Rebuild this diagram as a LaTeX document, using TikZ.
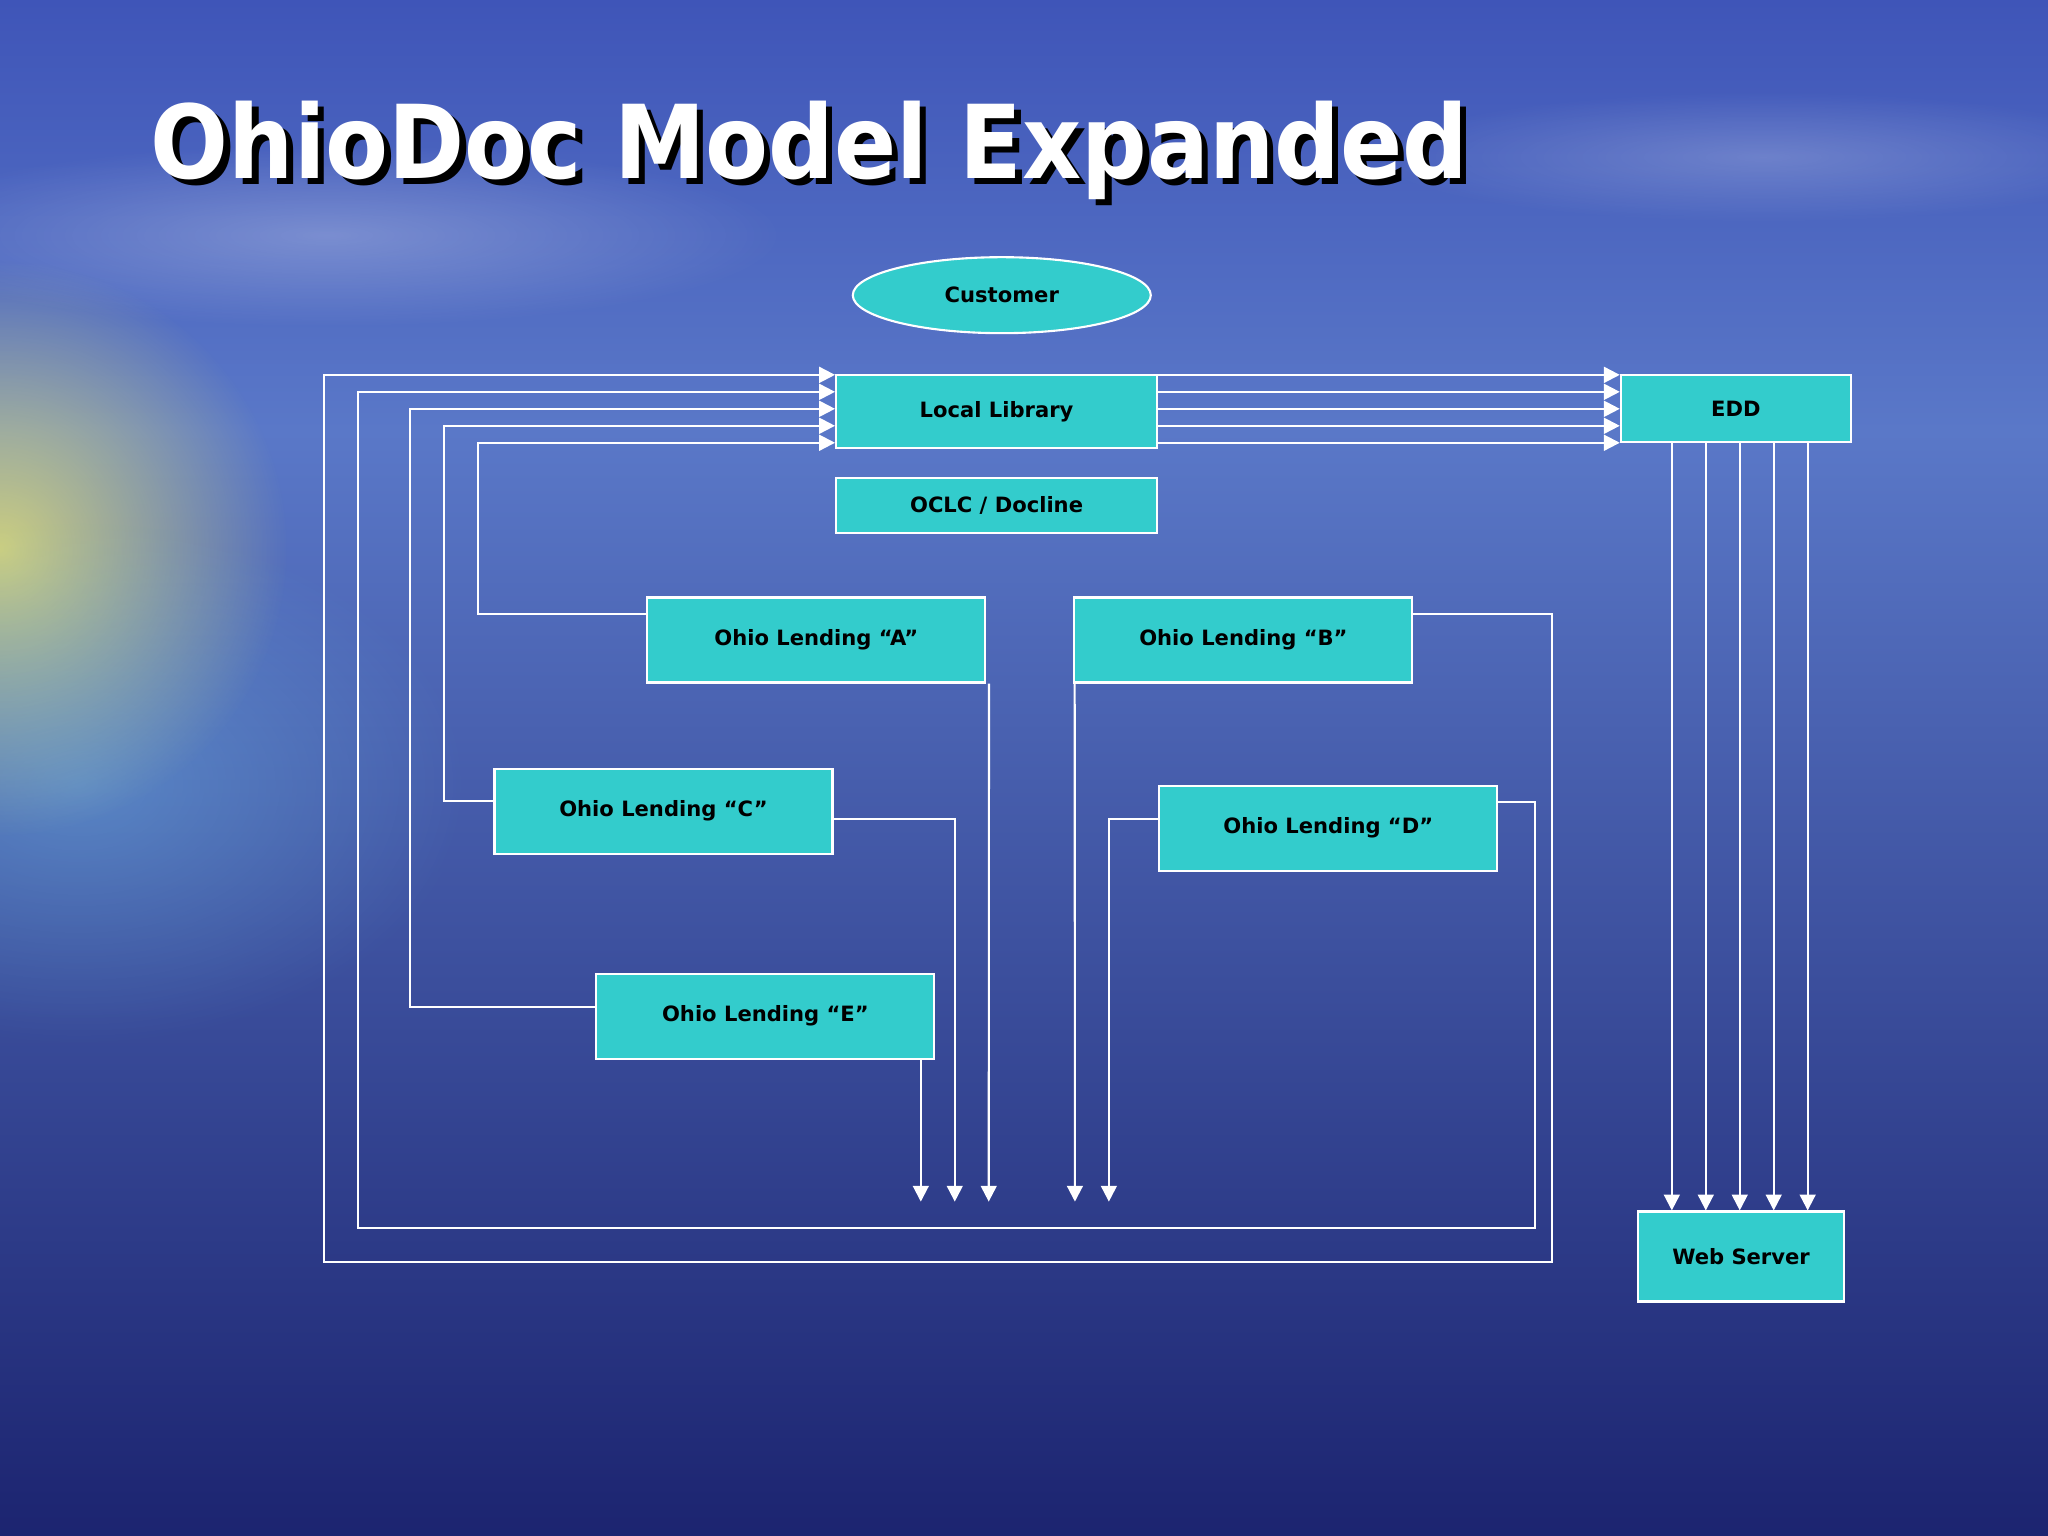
\documentclass[tikz,border=0pt]{standalone}
\usepackage{fontspec}
\setmainfont{DejaVu Sans}
\usetikzlibrary{arrows.meta,shapes.geometric,fadings}
\definecolor{boxc}{HTML}{33CCCC}
\definecolor{skytop}{HTML}{3F55B8}
\definecolor{horiz}{HTML}{5A78C8}
\definecolor{seabot}{HTML}{1C2470}
\tikzfading[name=softfade, inner color=transparent!0, outer color=transparent!100]
\tikzset{
 box/.style={draw=white,line width=0.6pt,fill=boxc,font=\fontsize{6.0}{7}\selectfont\bfseries,text=black,inner sep=0pt},
 wire/.style={draw=white,line width=0.6pt},
 arr/.style={wire,-{Triangle[width=4.5pt,length=4.5pt,fill=white]}},
 ttl/.style={anchor=west,font=\fontsize{29}{34}\selectfont\bfseries}
}
\begin{document}
\begin{tikzpicture}[x=0.01306cm,y=-0.01306cm]
\useasboundingbox (0,0) rectangle (1568,1176);
\shade[top color=skytop,bottom color=horiz] (0,0) rectangle (1568,330);
\shade[top color=horiz,bottom color=seabot] (0,330) rectangle (1568,1176);
\fill[white,opacity=0.25,path fading=softfade] (250,180) ellipse (350 and 70);
\fill[white,opacity=0.2,path fading=softfade] (1350,120) ellipse (300 and 50);
\fill[yellow!60!white,opacity=0.7,path fading=softfade] (0,420) ellipse (220 and 220);
\fill[cyan!50!white,opacity=0.35,path fading=softfade] (60,600) ellipse (300 and 200);
% title (with drop shadow)
\node[ttl,text=black] at (111,120) {\scalebox{0.9}[1]{OhioDoc Model Expanded}};
\node[ttl,text=white] (title) at (106,115) {\scalebox{0.9}[1]{OhioDoc Model Expanded}};
% nodes
\node[ellipse,draw=white,fill=boxc,line width=0.6pt,font=\fontsize{6.0}{7}\selectfont\bfseries,inner sep=0pt,minimum width=2.98cm,minimum height=0.76cm] (cust) at (767,226) {Customer};
\node[box,minimum width=3.21cm,minimum height=0.73cm] (ll) at (763,315) {Local Library};
\node[box,minimum width=3.21cm,minimum height=0.55cm] (oclc) at (763,387) {OCLC / Docline};
\node[box,minimum width=2.30cm,minimum height=0.67cm] (edd) at (1329,313) {EDD};
\node[box,minimum width=3.38cm,minimum height=0.85cm] (A) at (625,490) {Ohio Lending “A”};
\node[box,minimum width=3.38cm,minimum height=0.85cm] (B) at (952,490) {Ohio Lending “B”};
\node[box,minimum width=3.38cm,minimum height=0.85cm] (C) at (508,621) {Ohio Lending “C”};
\node[box,minimum width=3.38cm,minimum height=0.85cm] (D) at (1017,634) {Ohio Lending “D”};
\node[box,minimum width=3.38cm,minimum height=0.85cm] (E) at (586,778) {Ohio Lending “E”};
\node[box,minimum width=2.06cm,minimum height=0.90cm] (ws) at (1333,962) {Web Server};
% feeds into local library
\draw[arr] (A.west |- 0,470) -- (366,470) -- (366,339) -- (ll.west |- 0,339);
\draw[arr] (C.west |- 0,613) -- (340,613) -- (340,326) -- (ll.west |- 0,326);
\draw[arr] (E.west |- 0,771) -- (314,771) -- (314,313) -- (ll.west |- 0,313);
\draw[arr] (D.east |- 0,614) -- (1175,614) -- (1175,940) -- (274,940) -- (274,300) -- (ll.west |- 0,300);
\draw[arr] (B.east |- 0,470) -- (1188,470) -- (1188,966) -- (248,966) -- (248,287) -- (ll.west |- 0,287);
% LL to EDD
\foreach \y in {287,300,313,326,339} \draw[arr] (ll.east |- 0,\y) -- (edd.west |- 0,\y);
% EDD to web server
\foreach \x in {1280,1306,1332,1358,1384} \draw[arr] (edd.south -| \x,0) -- (ws.north -| \x,0);
% down arrows
\coordinate (eA) at (757,920); \coordinate (eB) at (823,920);
\draw[arr] (E.south -| 705,0) -- (705,920);
\draw[arr] (C.east |- 0,627) -- (731,627) -- (731,920);
\draw[arr] (A.south east) ++(2,0) -- (eA);
\draw[arr] (B.south west) ++(1,0) -- (eB);
\draw[arr] (D.west |- 0,627) -- (849,627) -- (849,920);
\end{tikzpicture}
\end{document}
